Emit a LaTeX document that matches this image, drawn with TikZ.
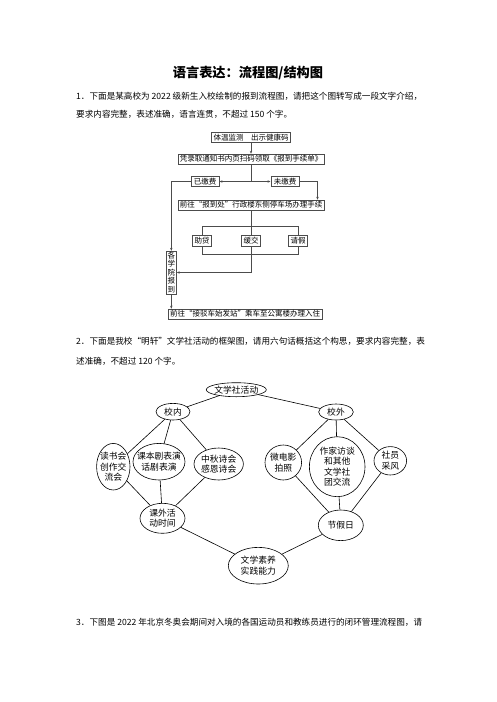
\documentclass[tikz,border=0pt]{standalone}
\usepackage{fontspec}
\newfontfamily\cjk{Noto Sans CJK SC}
\usetikzlibrary{arrows.meta,shapes.geometric}
\definecolor{linegray}{gray}{0.3}

\begin{document}
\begin{tikzpicture}[x=1pt,y=-1pt,
  flow/.style={draw=linegray, line width=0.5pt, font=\cjk\fontsize{7.5}{8.5}\selectfont, inner xsep=2pt, inner ysep=1pt, minimum height=10pt},
  bubble/.style={draw, ellipse, line width=0.6pt, align=center, font=\cjk\fontsize{8.8}{10.6}\selectfont, inner xsep=-4pt, inner ysep=-2pt},
  body/.style={anchor=west, inner sep=0pt, font=\cjk\fontsize{8.6}{10}\selectfont},
  arr/.style={linegray, line width=0.5pt, -{Stealth[length=3pt,width=2.4pt]}},
  flowline/.style={linegray, line width=0.5pt},
  link/.style={line width=0.6pt}]
\useasboundingbox (0,0) rectangle (496,702);

\node[font=\cjk\bfseries\fontsize{13.2}{15}\selectfont] (title) at (248,73) {语言表达：流程图/结构图};
\node[body] (q1a) at (76,96.7) {1．下面是某高校为 2022 级新生入校绘制的报到流程图，请把这个图转写成一段文字介绍，};
\node[body] (q1b) at (76,114) {要求内容完整，表述准确，语言连贯，不超过 150 个字。};

% flow chart
\node[flow] (check) at (251,137.7) {体温监测　出示健康码};
\node[flow] (notice) at (251,159) {凭录取通知书内页扫码领取《报到手续单》};
\coordinate (fork) at (251,181.5);
\node[flow, inner xsep=3pt] (paid) at (205,181.5) {已缴费};
\node[flow, inner xsep=3pt] (unpaid) at (285,181.5) {未缴费};
\node[flow] (office) at (251,205) {前往“报到处”行政楼东侧停车场办理手续};
\node[flow, minimum height=11pt] (loan) at (202,241) {助贷};
\node[flow, minimum height=11pt] (defer) at (251,241) {缓交};
\node[flow, minimum height=11pt] (leave) at (298,241) {请假};
\node[flow, align=center, inner xsep=1.5pt] (college) at (171.3,272.5) {各\\学\\院\\报\\到};
\node[flow] (dorm) at (245,314) {前往“接驳车始发站”乘车至公寓楼办理入住};

% draw the arrows
\draw[arr] (check) -- (notice);
\draw[flowline] (notice) -- (fork);
\draw[arr] (fork) -- (paid);
\draw[arr] (fork) -- (unpaid);
\draw[arr] (unpaid.east) -| ([xshift=-7pt]office.north east);
\draw[arr] (paid.west) -| (college.north);
\draw[flowline] (office) -- (defer);
\draw[flowline] (loan.north) -- ++(0,-9.5) -| (leave.north);
\draw[flowline] (loan.south) -- ++(0,7.8) -| (leave.south);
\draw[arr] (defer.south) |- (college.east);
\draw[arr] (college) -- (college |- dorm.north);

\node[body] (q2a) at (76,341.7) {2．下面是我校“明轩”文学社活动的框架图，请用六句话概括这个构思，要求内容完整，表};
\node[body] (q2b) at (76,361.7) {述准确，不超过 120 个字。};

% structure chart
\node[bubble, minimum width=60pt, minimum height=14pt] (club) at (236.3,389.7) {文学社活动};
\node[bubble, minimum width=34pt, minimum height=16.6pt] (inside) at (173,411.7) {校内};
\node[bubble, minimum width=34.6pt, minimum height=16pt] (outside) at (336,412) {校外};
\node[bubble, minimum width=33.4pt, minimum height=46.6pt] (reading) at (113.3,466.7) {读书会\\创作交\\流会};
\node[bubble, minimum width=52pt, minimum height=36.6pt] (drama) at (159,461.7) {课本剧表演\\话剧表演};
\node[bubble, minimum width=49.4pt, minimum height=32pt] (poetry) at (218.7,464) {中秋诗会\\感恩诗会};
\node[bubble, minimum width=36.6pt, minimum height=35pt] (film) at (283.3,462.5) {微电影\\拍照};
\node[bubble, minimum width=55.6pt, minimum height=60pt] (writer) at (337.2,466.7) {作家访谈\\和其他\\文学社\\团交流};
\node[bubble, minimum width=32.6pt, minimum height=28.4pt] (collect) at (390.3,460.8) {社员\\采风};
\node[bubble, minimum width=45pt, minimum height=30pt] (afterclass) at (162.5,518.3) {课外活\\动时间};
\node[bubble, minimum width=45pt, minimum height=30.6pt] (holiday) at (340.8,525.3) {节假日};
\node[bubble, minimum width=60pt, minimum height=36.6pt] (literacy) at (258.3,565.7) {文学素养\\实践能力};

% draw the links
\draw[link] (club) -- (inside);
\draw[link] (club) -- (outside);
\draw[link] (inside) -- (reading);
\draw[link] (inside) -- (drama);
\draw[link] (inside) -- (poetry);
\draw[link] (outside) -- (film);
\draw[link] (outside) -- (writer);
\draw[link] (outside) -- (collect);
\draw[link] (reading) -- (afterclass);
\draw[link] (drama) -- (afterclass);
\draw[link] (poetry) -- (afterclass);
\draw[link] (film) -- (holiday);
\draw[link] (writer) -- (holiday);
\draw[link] (collect) -- (holiday);
\draw[link] (afterclass) -- (literacy);
\draw[link] (holiday) -- (literacy);

\node[body] (q3) at (76,622.7) {3．下图是 2022 年北京冬奥会期间对入境的各国运动员和教练员进行的闭环管理流程图，请};

\end{tikzpicture}
\end{document}
